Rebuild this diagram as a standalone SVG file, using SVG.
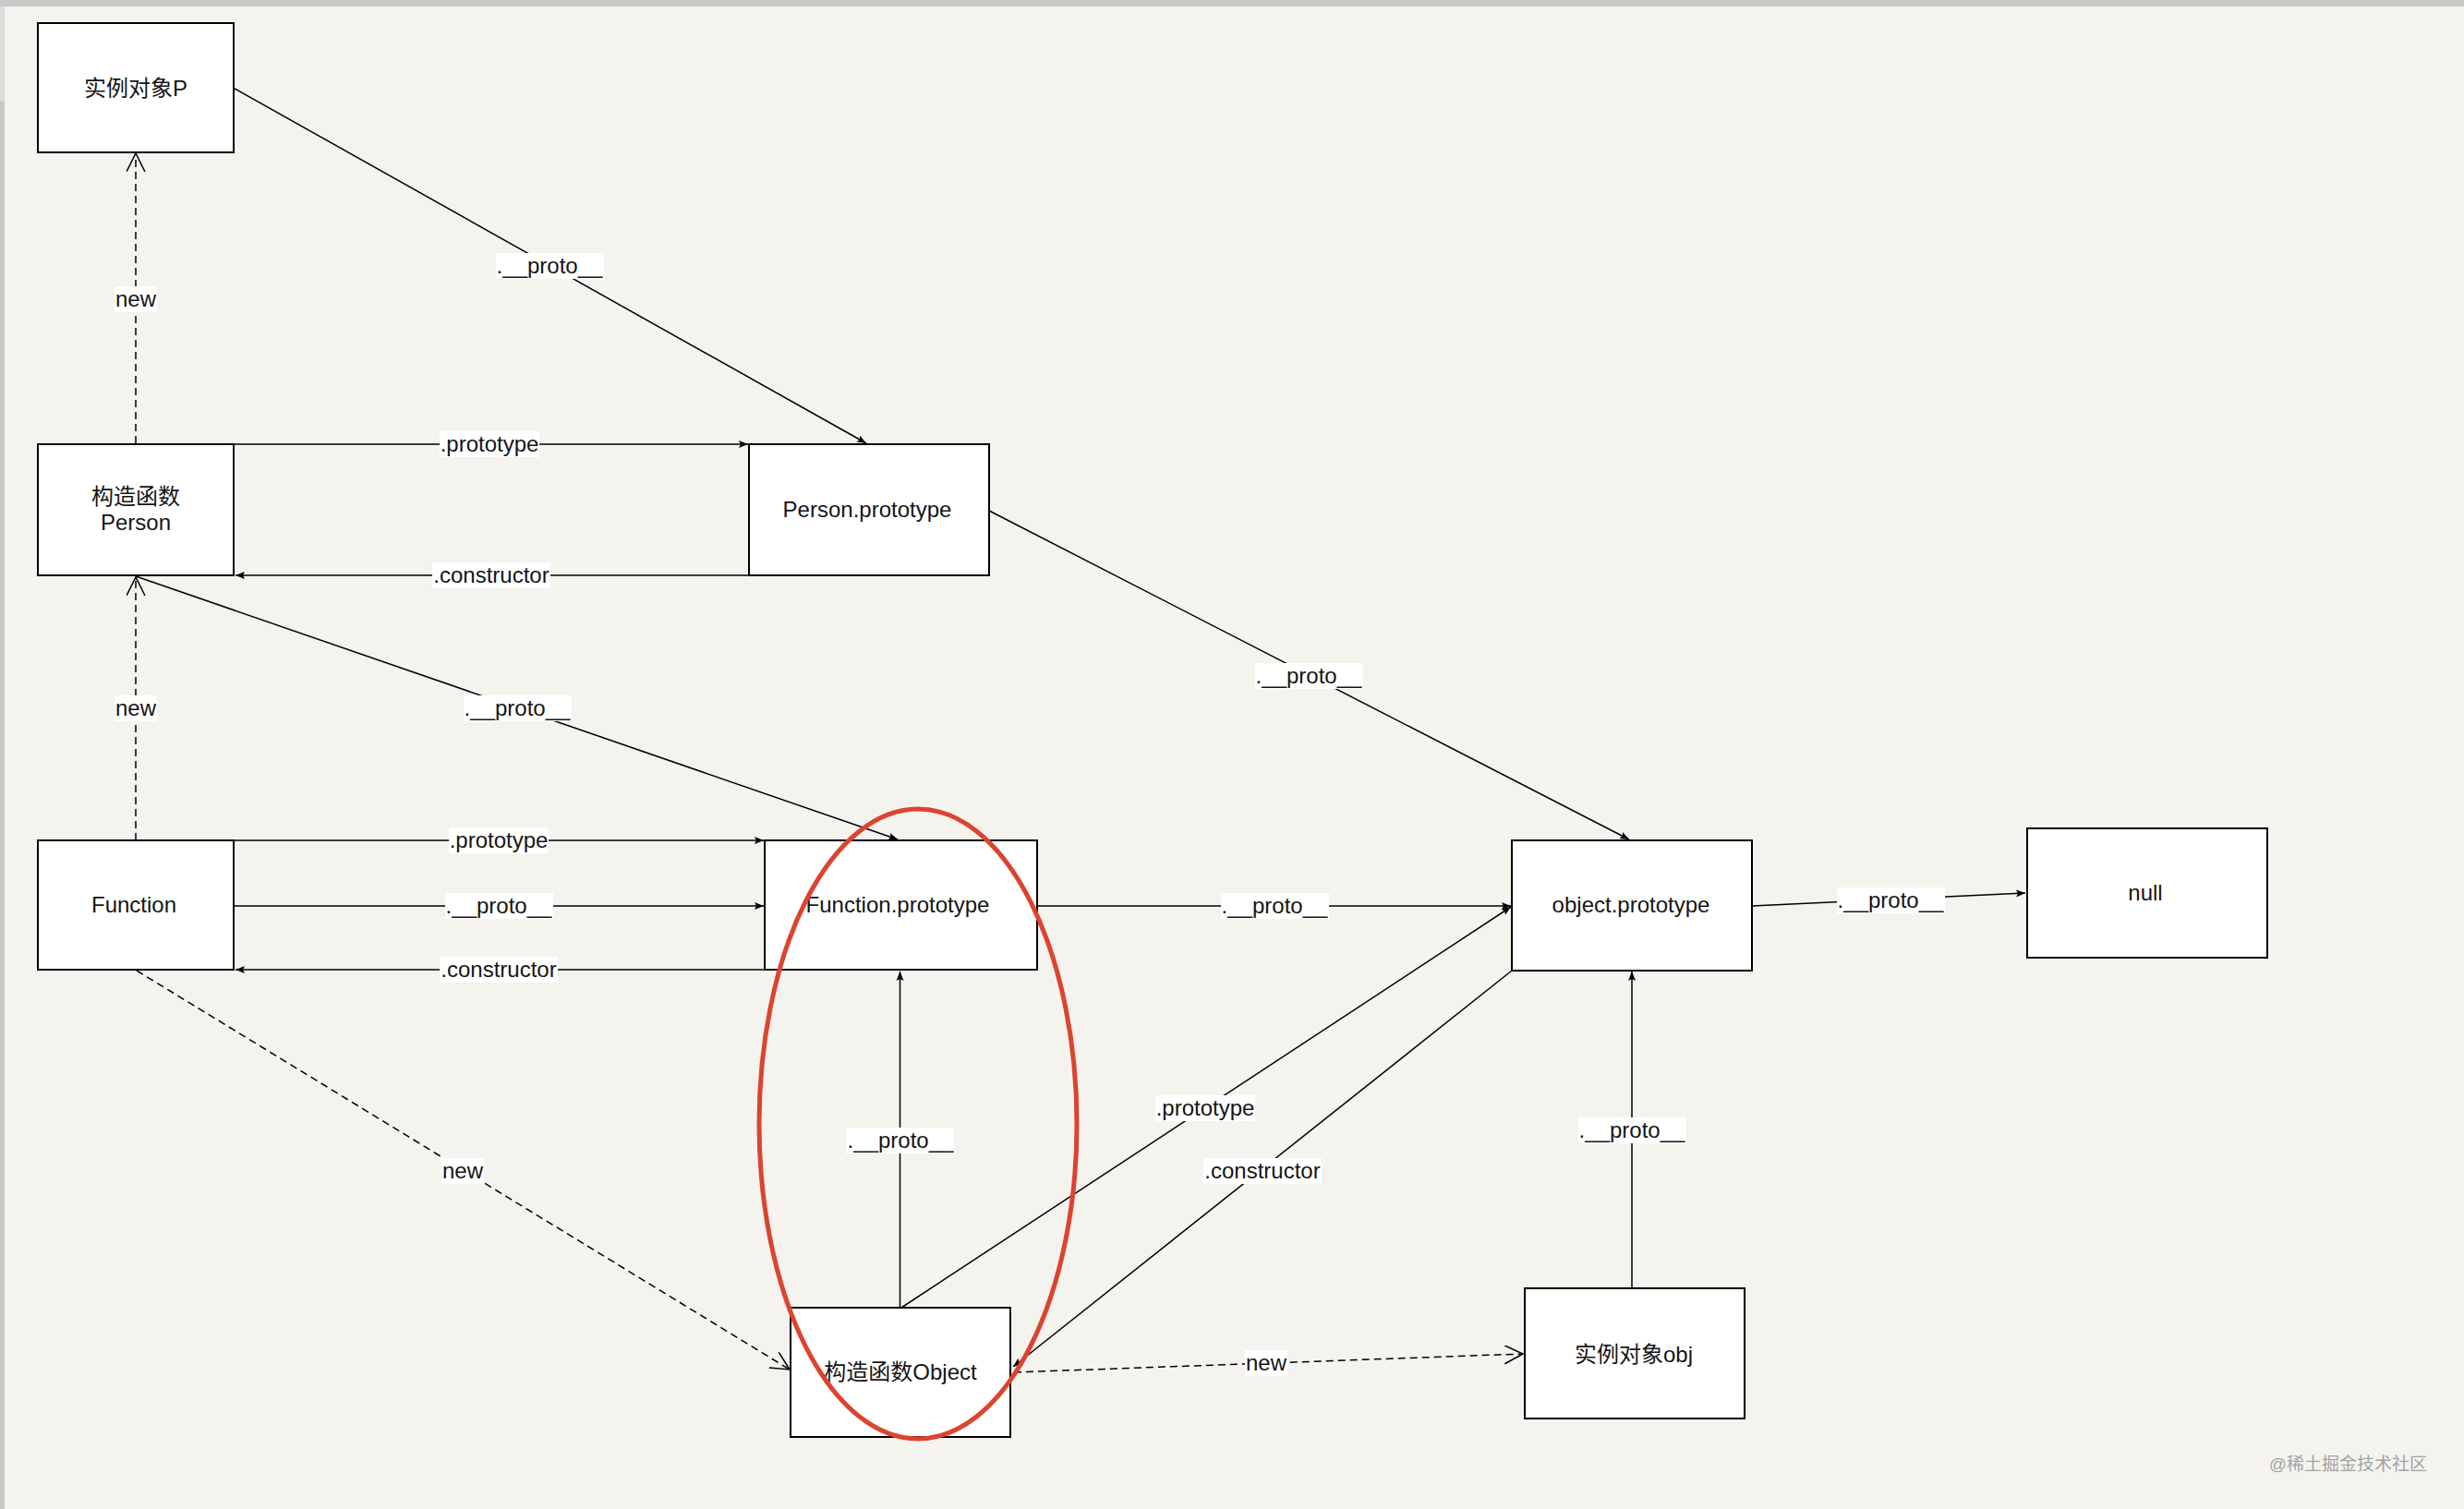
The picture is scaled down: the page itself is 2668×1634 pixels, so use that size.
<svg xmlns="http://www.w3.org/2000/svg" width="2668" height="1634" viewBox="0 0 2668 1634">
<style>
.bg{fill:#f4f3ee}
.node rect{fill:#ffffff;stroke:#000;stroke-width:2}
.t{font-family:"Liberation Sans","Noto Sans CJK SC",Arial,sans-serif;font-size:24px;fill:#151515;text-anchor:middle}
.ln{stroke:#000;stroke-width:1.5;fill:none}
.solid{marker-end:url(#fa)}
.dash{stroke-dasharray:8 5;marker-end:url(#oa)}
.lb{fill:#ffffff}
.wm{font-family:"Liberation Sans","Noto Sans CJK SC",sans-serif;font-size:19px;fill:#a3a3a3;text-anchor:end}
</style>
<defs>
<marker id="fa" markerUnits="userSpaceOnUse" markerWidth="12" markerHeight="10" refX="10" refY="4" orient="auto">
<path d="M0,0 L10,4 L0,8 L2,4 Z" fill="#000"/>
</marker>
<marker id="oa" markerUnits="userSpaceOnUse" markerWidth="24" markerHeight="24" refX="20" refY="10" orient="auto">
<path d="M0,0 L20,10 L0,20" fill="none" stroke="#000" stroke-width="1.5"/>
</marker>
</defs>
<rect class="bg" x="0" y="0" width="2668" height="1634"/>
<rect x="0" y="0" width="2668" height="7" fill="#c9c9c9"/>
<rect x="0" y="7" width="5" height="103" fill="#dcdcdc"/>
<rect x="0" y="110" width="5" height="1524" fill="#c6c6c6"/>

<g id="connectors">
  <line class="ln solid" x1="254" y1="96" x2="938" y2="480"/>
  <line class="ln dash" x1="147" y1="480" x2="147" y2="166"/>
  <line class="ln solid" x1="253" y1="481" x2="810" y2="481"/>
  <line class="ln solid" x1="811" y1="623" x2="255" y2="623"/>
  <line class="ln solid" x1="147" y1="624" x2="972" y2="909"/>
  <line class="ln dash" x1="147" y1="910" x2="147" y2="625"/>
  <line class="ln solid" x1="253" y1="910" x2="827" y2="910"/>
  <line class="ln solid" x1="253" y1="981" x2="827" y2="981"/>
  <line class="ln solid" x1="828" y1="1050" x2="255" y2="1050"/>
  <line class="ln solid" x1="1123" y1="981" x2="1636" y2="981"/>
  <line class="ln solid" x1="1071" y1="553" x2="1764" y2="909"/>
  <line class="ln dash" x1="148" y1="1051" x2="855" y2="1483"/>
  <line class="ln solid" x1="974.5" y1="1416" x2="974.5" y2="1052"/>
  <line class="ln solid" x1="976" y1="1416" x2="1636" y2="982"/>
  <line class="ln solid" x1="1637" y1="1051" x2="1097" y2="1480"/>
  <line class="ln dash" x1="1098" y1="1486" x2="1649" y2="1466"/>
  <line class="ln solid" x1="1767" y1="1395" x2="1767" y2="1052"/>
  <line class="ln solid" x1="1897" y1="981" x2="2193" y2="967"/>

  <rect class="lb" x="537" y="274" width="117" height="28"/>
  <text class="t" x="595" y="296">.__proto__</text>
  <rect class="lb" x="124" y="310" width="46" height="28"/>
  <text class="t" x="147" y="332">new</text>
  <rect class="lb" x="476" y="467" width="108" height="28"/>
  <text class="t" x="530" y="489">.prototype</text>
  <rect class="lb" x="468" y="609" width="128" height="28"/>
  <text class="t" x="532" y="631">.constructor</text>
  <rect class="lb" x="502" y="753" width="117" height="28"/>
  <text class="t" x="560" y="775">.__proto__</text>
  <rect class="lb" x="124" y="753" width="46" height="28"/>
  <text class="t" x="147" y="775">new</text>
  <rect class="lb" x="486" y="896" width="108" height="28"/>
  <text class="t" x="540" y="918">.prototype</text>
  <rect class="lb" x="482" y="967" width="117" height="28"/>
  <text class="t" x="540" y="989">.__proto__</text>
  <rect class="lb" x="476" y="1036" width="128" height="28"/>
  <text class="t" x="540" y="1058">.constructor</text>
  <rect class="lb" x="1322" y="967" width="117" height="28"/>
  <text class="t" x="1380" y="989">.__proto__</text>
  <rect class="lb" x="1359" y="718" width="117" height="28"/>
  <text class="t" x="1417" y="740">.__proto__</text>
  <rect class="lb" x="478" y="1254" width="46" height="28"/>
  <text class="t" x="501" y="1276">new</text>
  <rect class="lb" x="916" y="1221" width="117" height="28"/>
  <text class="t" x="975" y="1243">.__proto__</text>
  <rect class="lb" x="1251" y="1186" width="108" height="28"/>
  <text class="t" x="1305" y="1208">.prototype</text>
  <rect class="lb" x="1303" y="1254" width="128" height="28"/>
  <text class="t" x="1367" y="1276">.constructor</text>
  <rect class="lb" x="1348" y="1462" width="46" height="28"/>
  <text class="t" x="1371" y="1484">new</text>
  <rect class="lb" x="1709" y="1210" width="117" height="28"/>
  <text class="t" x="1767" y="1232">.__proto__</text>
  <rect class="lb" x="1989" y="961" width="117" height="28"/>
  <text class="t" x="2047" y="983">.__proto__</text>
</g>

<g id="node-instanceP" class="node">
  <rect x="41" y="25" width="212" height="140"/>
  <text class="t" x="147" y="104">实例对象P</text>
</g>
<g id="node-Person" class="node">
  <rect x="41" y="481" width="212" height="142"/>
  <text class="t" x="147" y="546">构造函数</text>
  <text class="t" x="147" y="574">Person</text>
</g>
<g id="node-PersonPrototype" class="node">
  <rect x="811" y="481" width="260" height="142"/>
  <text class="t" x="939" y="560">Person.prototype</text>
</g>
<g id="node-Function" class="node">
  <rect x="41" y="910" width="212" height="140"/>
  <text class="t" x="145" y="988">Function</text>
</g>
<g id="node-FunctionPrototype" class="node">
  <rect x="828" y="910" width="295" height="140"/>
  <text class="t" x="972" y="988">Function.prototype</text>
</g>
<g id="node-ObjectPrototype" class="node">
  <rect x="1637" y="910" width="260" height="141"/>
  <text class="t" x="1766" y="988">object.prototype</text>
</g>
<g id="node-null" class="node">
  <rect x="2195" y="897" width="260" height="140"/>
  <text class="t" x="2323" y="975">null</text>
</g>
<g id="node-Object" class="node">
  <rect x="856" y="1416" width="238" height="140"/>
  <text class="t" x="975" y="1494">构造函数Object</text>
</g>
<g id="node-instanceObj" class="node">
  <rect x="1651" y="1395" width="238" height="141"/>
  <text class="t" x="1769" y="1475">实例对象obj</text>
</g>

<ellipse id="highlight" cx="994" cy="1217" rx="172" ry="341" fill="none" stroke="#dc4430" stroke-width="5"/>
<text class="wm" x="2628" y="1592">@稀土掘金技术社区</text>
</svg>
